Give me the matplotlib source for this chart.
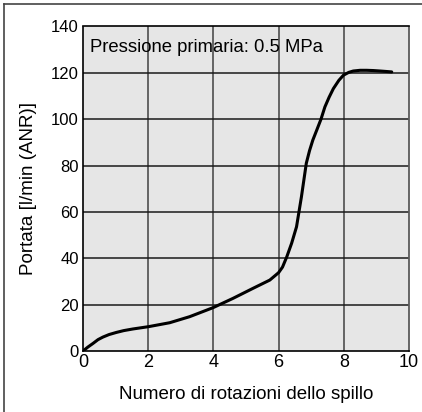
import matplotlib
matplotlib.use("Agg")
import matplotlib.pyplot as plt
from matplotlib.lines import Line2D

plt.rcParams['font.family'] = ['Liberation Sans', 'DejaVu Sans']

rotations = [0, 0.15, 0.31, 0.46, 0.61, 0.8, 1.02, 1.25, 1.53, 2.01, 2.66, 3.27, 3.99, 4.6, 5.21,
             5.73, 6.0, 6.12, 6.25, 6.4, 6.55, 6.7, 6.85, 6.95, 7.05, 7.17, 7.3,
             7.42, 7.55, 7.68, 7.85, 7.99, 8.15, 8.29, 8.5, 8.7, 8.9, 9.11, 9.3, 9.47]
flow = [0, 1.7, 3.3, 4.9, 6.0, 7.1, 8.0, 8.8, 9.5, 10.5, 12.2, 14.8, 18.7, 22.7, 27.0,
        30.6, 33.8, 36.2, 40.6, 46.5, 53.6, 66.5, 81.0, 86.5, 91.0, 95.3, 100.0,
        105.3, 109.5, 113.2, 116.8, 119.0, 120.2, 120.8, 121.1, 121.1, 121.0, 120.8, 120.6, 120.4]
xticks = [0, 2, 4, 6, 8, 10]
yticks = [0, 20, 40, 60, 80, 100, 120, 140]

fig = plt.figure(figsize=(4.22, 4.12), dpi=100)
ax = fig.add_axes([83/422, (412-351)/412, (409-83)/422, (351-26.5)/412])
ax.set_facecolor('#e6e6e6')

for xv in xticks[1:-1]:
    ax.axvline(xv, color='#5a5a5a', lw=1.3, zorder=1)
for yv in yticks[1:-1]:
    ax.axhline(yv, color='#1a1a1a', lw=1.1, zorder=1)

ax.plot(rotations, flow, color='black', lw=2.2, solid_joinstyle='round',
        solid_capstyle='round', zorder=3)

ax.set_xlim(0, 10)
ax.set_ylim(0, 140)
ax.set_xticks(xticks)
ax.set_yticks(yticks)
ax.tick_params(length=0, labelsize=12, pad=3)
ax.tick_params(axis='x', labelsize=13, pad=2)
for s in ['left', 'bottom', 'top']:
    ax.spines[s].set_color('black')
    ax.spines[s].set_linewidth(1.2)
ax.spines['right'].set_color('#5a5a5a')
ax.spines['right'].set_linewidth(1.3)

ax.set_xlabel('Numero di rotazioni dello spillo', fontsize=13.5, labelpad=11)
ax.set_ylabel('Portata [l/min (ANR)]', fontsize=13.5, labelpad=10)

ax.text(0.022, 0.96, 'Pressione primaria: 0.5 MPa', transform=ax.transAxes,
        fontsize=13.3, va='top', ha='left')

# outer frame (left and top edges)
fig.add_artist(Line2D([3.5/422, 3.5/422], [0, 1 - 3.5/412], transform=fig.transFigure,
                      color='#444444', lw=1.2))
fig.add_artist(Line2D([3.5/422, 1], [1 - 3.5/412, 1 - 3.5/412], transform=fig.transFigure,
                      color='#444444', lw=1.2))

fig.savefig('out.png', dpi=100)
